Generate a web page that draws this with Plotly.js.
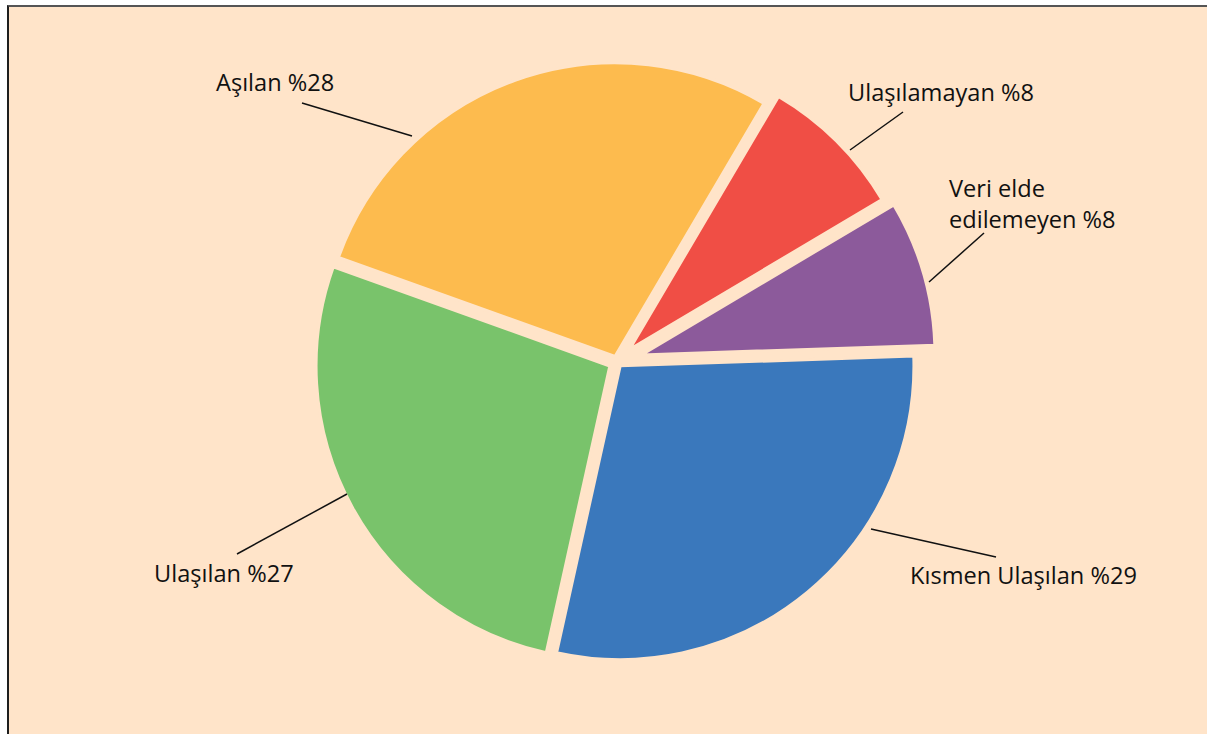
<!DOCTYPE html>
<html>
<head>
<meta charset="utf-8">
<script src="https://cdn.plot.ly/plotly-3.0.1.min.js"></script>
<style>
  html, body { margin: 0; padding: 0; background: #ffffff; overflow: hidden; }
  #frame { position: absolute; left: 7px; top: 5px; width: 1200px; height: 729px;
           border-left: 2px solid #1e1e1e; border-top: 2px solid #555555; background: #FFE4C9; }
  #chart { position: absolute; left: 0; top: 0; width: 1198px; height: 727px; }
</style>
</head>
<body>
<div id="frame"><div id="chart"></div></div>
<script>
// ---- data ----
const categories = ['Ulaşılamayan', 'Veri elde edilemeyen', 'Kısmen Ulaşılan', 'Ulaşılan', 'Aşılan'];
const labelText  = ['Ulaşılamayan %', 'Veri elde<br>edilemeyen %', 'Kısmen Ulaşılan %', 'Ulaşılan %', 'Aşılan %'];
const values     = [8, 8, 29, 27, 28];

// ---- styles ----
const sliceColors = ['#F04E45', '#8C5A9B', '#3A78BC', '#79C36B', '#FDBB4E'];
const slicePull   = [0.06, 0.086, 0.017, 0.028, 0.02];
const BG = '#FFE4C9';

const W = 1198, H = 727, OX = 9, OY = 7;
const px = X => (X - OX) / W;
const py = Y => 1 - (Y - OY) / H;

// label text anchors (page px) and leader lines (page px)
const labelPos = [[846, 92], [947, 203], [908, 575], [152, 573], [214, 82]];
const leaders  = [[[903,112],[850,150]], [[984,233],[929,282]], [[871,529],[996,557]],
                  [[347,494],[237,554]], [[302,103],[412,136]]];

const cx = 608, cy = 355, half = 319;
const trace = {
  type: 'pie',
  labels: categories,
  values: values,
  sort: false,
  direction: 'clockwise',
  rotation: 30.5,
  pull: slicePull,
  textinfo: 'none',
  hoverinfo: 'skip',
  marker: { colors: sliceColors, line: { color: BG, width: 3 } },
  domain: { x: [(cx - half) / W, (cx + half) / W], y: [(H - cy - half) / H, (H - cy + half) / H] },
  showlegend: false
};

const annotations = categories.map((c, i) => ({
  xref: 'paper', yref: 'paper',
  x: px(labelPos[i][0]), y: py(labelPos[i][1]),
  xanchor: 'left', yanchor: 'middle', align: 'left',
  text: labelText[i] + values[i],
  showarrow: false,
  font: { family: 'Open Sans, Noto Sans, sans-serif', size: 23.6, color: '#111111' }
}));

const shapes = leaders.map(l => ({
  type: 'line', xref: 'paper', yref: 'paper',
  x0: px(l[0][0]), y0: py(l[0][1]), x1: px(l[1][0]), y1: py(l[1][1]),
  line: { color: '#111111', width: 1.5 }
}));

Plotly.newPlot('chart', [trace], {
  width: W, height: H,
  margin: { l: 0, r: 0, t: 0, b: 0 },
  paper_bgcolor: BG, plot_bgcolor: BG,
  annotations: annotations,
  shapes: shapes
}, { staticPlot: true, displayModeBar: false });
</script>
</body>
</html>
